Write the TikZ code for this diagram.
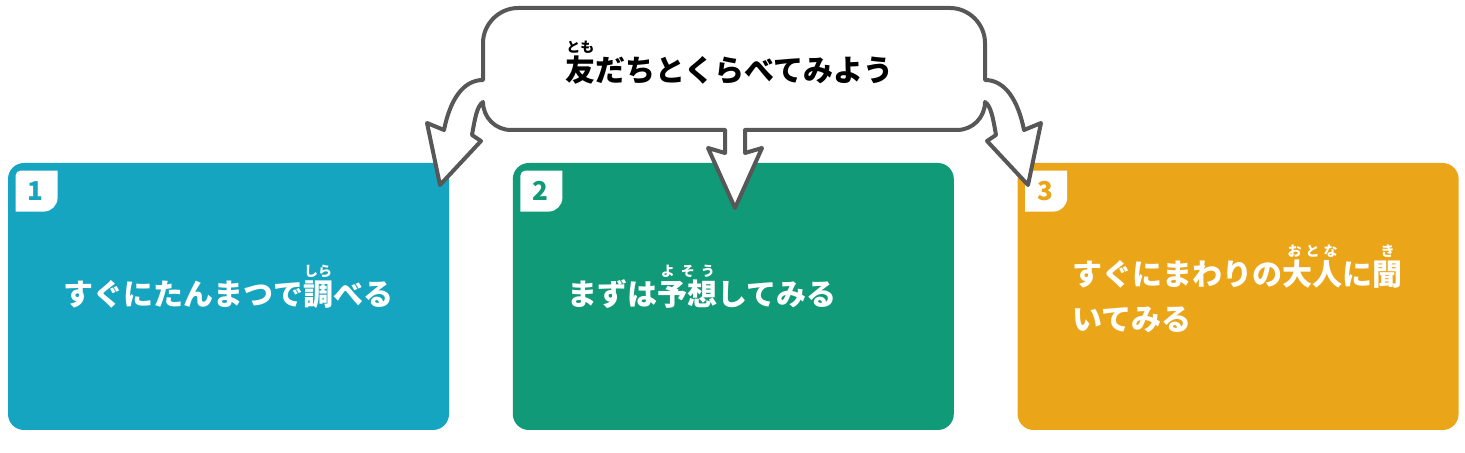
\documentclass[tikz,border=0pt]{standalone}
\usepackage{fontspec}
\newfontfamily\jp{Noto Sans CJK JP}
\usepackage{tikz}
\usetikzlibrary{positioning}

\definecolor{boxblue}{RGB}{22,165,193}
\definecolor{boxgreen}{RGB}{17,154,120}
\definecolor{boxorange}{RGB}{234,166,24}
\definecolor{outline}{RGB}{87,87,87}

% ruby (furigana) over a word
\newcommand\furi[2]{\leavevmode\setbox0\hbox{#1}%
  \rlap{\raisebox{14.5pt}[0pt][0pt]{\hbox to \wd0{\fontsize{7pt}{7pt}\selectfont\hss#2\hss}}}\box0}

\begin{document}
\begin{tikzpicture}[
  x=0.5pt, y=-0.5pt,
  node distance=31.5pt,
  every node/.style={font=\jp\bfseries},
  card/.style={rectangle, rounded corners=8pt, fill=#1, minimum width=220.5pt, minimum height=133.5pt, inner sep=0pt},
  cardtext/.style={anchor=base west, text=white, inner sep=0pt, align=left, font=\jp\bfseries\fontsize{15pt}{22.5pt}\selectfont},
  numlbl/.style={text=#1, inner sep=0pt, font=\jp\bfseries\fontsize{13pt}{13pt}\selectfont},
  bubble/.style={draw=outline, fill=white, line width=2pt, line join=round}
]
  \useasboundingbox (0,0) rectangle (1465,453);

  \node[card=boxblue] (quick) at (228.5,296.5) {};
  \node[card=boxgreen, right=of quick] (guess) {};
  \node[card=boxorange, right=of guess] (ask) {};

  \foreach \b/\c/\n in {quick/boxblue/1, guess/boxgreen/2, ask/boxorange/3}{
    \fill[white] ([shift={(8,49)}]\b.north west) -- ++(0,-36)
      arc[start angle=180, end angle=90, radius=2.5pt] -- ++(37,0) -- ++(0,27)
      arc[start angle=0, end angle=-90, radius=7pt] -- cycle;
    \node[numlbl=\c] (\b-num) at ([shift={(28,28.5)}]\b.north west) {\n};
  }

  \node[cardtext] (quick-txt) at ([shift={(55,9.5)}]quick.west) {すぐにたんまつで\furi{調}{しら}べる};
  \node[cardtext] (guess-txt) at ([shift={(55,9.5)}]guess.west) {まずは\furi{予想}{\kern1.5pt よ\hfill そ\hfill う\kern1.5pt}してみる};
  \node[cardtext] (ask-txt) at ([shift={(55,34.5)}]ask.west) {すぐにまわりの\furi{大人}{\kern2.5pt お\hfill と\hfill な\kern2.5pt}に\furi{聞}{き}\\いてみる};

  % speech bubble with three arrows
  \draw[bubble] (483,43) .. controls (483,24) and (499,8) .. (518,8)
    -- (950,8) .. controls (969,8) and (985,24) .. (985,43)
    -- (985,80) .. controls (1005,80) and (1018,100) .. (1024,130)
    -- (1041,123) -- (1028,185) -- (987,141) -- (996,135)
    .. controls (993,118) and (991,106) .. (985,102)
    .. controls (985,117.5) and (972.5,130) .. (957,130)
    -- (745,130) -- (745,153) -- (762,148) -- (735,208) -- (708,148) -- (725,153) -- (725,130)
    -- (511,130) .. controls (495.5,130) and (483,117.5) .. (483,102)
    .. controls (477,106) and (475,118) .. (472,135)
    -- (481,141) -- (440,185) -- (427,123) -- (444,130)
    .. controls (450,100) and (463,80) .. (483,80) -- cycle;

  \node[anchor=base west, inner sep=0pt, font=\jp\bfseries\fontsize{15pt}{15pt}\selectfont] (title) at (565,82) {\furi{友}{とも}だちとくらべてみよう};
\end{tikzpicture}
\end{document}
